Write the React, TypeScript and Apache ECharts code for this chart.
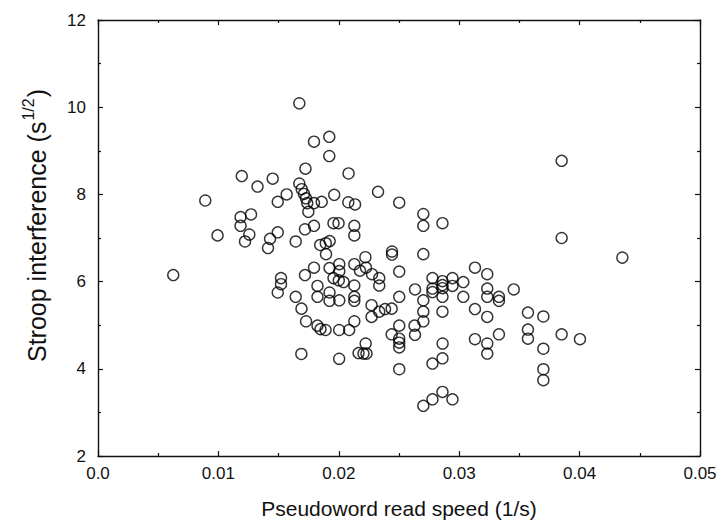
import React, { useEffect, useRef } from "react";
import * as echarts from "echarts";

const speedValues: number[] = [
  0.01672, 0.01794, 0.01921, 0.01921, 0.01723, 0.02081, 0.01194, 0.01451, 0.01325, 0.01672,
  0.01692, 0.01711, 0.01728, 0.01738, 0.01567, 0.01962, 0.02326, 0.02502, 0.00891, 0.01493,
  0.01858, 0.02079, 0.02135, 0.01794, 0.01747, 0.01184, 0.01271, 0.01184, 0.01257, 0.01221,
  0.00993, 0.01493, 0.01429, 0.01412, 0.01642, 0.01719, 0.01794, 0.01956, 0.01998, 0.02129,
  0.02129, 0.01846, 0.01892, 0.01924, 0.01894, 0.02221, 0.02442, 0.02442, 0.02702, 0.02702,
  0.02861, 0.03851, 0.03851, 0.04355, 0.02702, 0.00625, 0.0152, 0.0152, 0.01493, 0.01794,
  0.01719, 0.01923, 0.02004, 0.02004, 0.01956, 0.02, 0.0204, 0.02129, 0.02176, 0.02226,
  0.02276, 0.02336, 0.02336, 0.02502, 0.02129, 0.01823, 0.01642, 0.01823, 0.01923, 0.01923,
  0.02004, 0.02129, 0.02129, 0.03131, 0.03233, 0.02778, 0.02861, 0.02944, 0.03034, 0.02778,
  0.02778, 0.02861, 0.02861, 0.02944, 0.02633, 0.03034, 0.02861, 0.02702, 0.02502, 0.03233,
  0.03233, 0.0333, 0.0333, 0.03453, 0.03131, 0.0169, 0.01728, 0.01823, 0.01848, 0.0189,
  0.02003, 0.02086, 0.02129, 0.02272, 0.02272, 0.02336, 0.02384, 0.02439, 0.02502, 0.02439,
  0.02502, 0.02502, 0.02502, 0.02502, 0.02223, 0.02164, 0.02205, 0.0223, 0.02003, 0.01689,
  0.02702, 0.02861, 0.03233, 0.03571, 0.03699, 0.02629, 0.02702, 0.02633, 0.02862, 0.03131,
  0.03233, 0.03233, 0.0333, 0.03571, 0.03571, 0.03851, 0.04003, 0.03699, 0.02861, 0.02778,
  0.03699, 0.03699, 0.02702, 0.02778, 0.02861, 0.02944,
];

const interferenceValues: number[] = [
  10.09, 9.21, 9.32, 8.88, 8.59, 8.48, 8.42, 8.36, 8.18, 8.25,
  8.12, 8.01, 7.91, 7.8, 8.0, 7.99, 8.06, 7.81, 7.86, 7.83,
  7.83, 7.82, 7.77, 7.8, 7.6, 7.48, 7.54, 7.28, 7.08, 6.92,
  7.06, 7.13, 6.98, 6.77, 6.92, 7.2, 7.28, 7.34, 7.34, 7.28,
  7.06, 6.84, 6.88, 6.93, 6.63, 6.56, 6.69, 6.62, 7.55, 7.28,
  7.34, 8.77, 7.0, 6.55, 6.63, 6.15, 6.08, 5.94, 5.75, 6.32,
  6.15, 6.31, 6.4, 6.24, 6.08, 6.03, 5.99, 6.4, 6.25, 6.32,
  6.17, 6.08, 5.91, 6.23, 5.91, 5.9, 5.65, 5.65, 5.75, 5.56,
  5.57, 5.65, 5.56, 6.32, 6.17, 6.08, 6.01, 6.08, 5.99, 5.84,
  5.76, 5.92, 5.85, 5.9, 5.82, 5.65, 5.65, 5.57, 5.65, 5.84,
  5.65, 5.65, 5.56, 5.82, 5.37, 5.38, 5.09, 4.99, 4.91, 4.89,
  4.89, 4.89, 5.09, 5.46, 5.19, 5.31, 5.37, 5.38, 4.99, 4.79,
  4.69, 4.6, 4.49, 3.99, 4.58, 4.36, 4.35, 4.35, 4.23, 4.34,
  5.31, 5.31, 5.19, 5.29, 5.2, 4.99, 5.09, 4.78, 4.58, 4.68,
  4.58, 4.35, 4.79, 4.9, 4.69, 4.79, 4.68, 4.46, 4.24, 4.12,
  3.99, 3.74, 3.15, 3.3, 3.47, 3.3,
];

const xTickLabels: string[] = ["0.0", "0.01", "0.02", "0.03", "0.04", "0.05"];
const yTickLabels: string[] = ["2", "4", "6", "8", "10", "12"];

const yTitleMain = "Stroop interference (s";
const yTitleSup = "1/2";
const yTitleEnd = ")";

const FONT = "'Liberation Sans', Arial, Helvetica, sans-serif";
const INK = "#111";

function measure(text: string, size: number): number {
  const c = document.createElement("canvas").getContext("2d");
  if (!c) return text.length * size * 0.5;
  c.font = `${size}px ${FONT}`;
  return c.measureText(text).width;
}

export default function App() {
  const ref = useRef<HTMLDivElement>(null);

  useEffect(() => {
    document.body.style.margin = "0";
    if (!ref.current) return;
    const chart = echarts.init(ref.current, null, { renderer: "svg" });

    const points = speedValues.map((x, i) => [x, interferenceValues[i]]);

    const xLabel = (v: number) => {
      const idx = Math.round(v / 0.01);
      return xTickLabels[idx] ?? "";
    };
    const yLabel = (v: number) => {
      const idx = Math.round((v - 2) / 2);
      return yTickLabels[idx] ?? "";
    };

    const axisLine = { show: true, onZero: false, lineStyle: { color: INK, width: 1.4 } };
    const axisTick = { show: true, inside: true, length: 5, lineStyle: { color: INK, width: 1.2 } };
    const minorTick = { show: true, splitNumber: 2, length: 3, lineStyle: { color: INK, width: 1.2 } };

    const mainSize = 25;
    const supSize = 16;
    const wMain = measure(yTitleMain, mainSize);
    const wSup = measure(yTitleSup, supSize);
    const titleStartY = 362;
    const mainMidX = 37;
    const supMidX = 28;

    chart.setOption({
      animation: false,
      backgroundColor: "#fff",
      grid: { left: 98, right: 23, top: 20, bottom: 68, containLabel: false },
      graphic: [
        {
          type: "text",
          x: mainMidX,
          y: titleStartY,
          rotation: Math.PI / 2,
          style: {
            text: yTitleMain,
            fill: INK,
            font: `${mainSize}px ${FONT}`,
            textAlign: "left",
            textVerticalAlign: "middle",
          },
        },
        {
          type: "text",
          x: supMidX,
          y: titleStartY - wMain - 1,
          rotation: Math.PI / 2,
          style: {
            text: yTitleSup,
            fill: INK,
            font: `${supSize}px ${FONT}`,
            textAlign: "left",
            textVerticalAlign: "middle",
          },
        },
        {
          type: "text",
          x: mainMidX,
          y: titleStartY - wMain - wSup - 2,
          rotation: Math.PI / 2,
          style: {
            text: yTitleEnd,
            fill: INK,
            font: `${mainSize}px ${FONT}`,
            textAlign: "left",
            textVerticalAlign: "middle",
          },
        },
      ],
      xAxis: [
        {
          type: "value",
          position: "bottom",
          min: 0,
          max: 0.05,
          interval: 0.01,
          axisLine,
          axisTick,
          minorTick: { ...minorTick },
          splitLine: { show: false },
          axisLabel: {
            formatter: xLabel,
            color: INK,
            fontFamily: FONT,
            fontSize: 17,
            margin: 9,
          },
          name: "Pseudoword read speed (1/s)",
          nameLocation: "middle",
          nameGap: 42,
          nameTextStyle: { color: INK, fontFamily: FONT, fontSize: 21 },
        },
        {
          type: "value",
          position: "top",
          min: 0,
          max: 0.05,
          interval: 0.01,
          axisLine,
          axisTick,
          minorTick: { ...minorTick },
          splitLine: { show: false },
          axisLabel: { show: false },
        },
      ],
      yAxis: [
        {
          type: "value",
          position: "left",
          min: 2,
          max: 12,
          interval: 2,
          axisLine,
          axisTick,
          minorTick: { ...minorTick },
          splitLine: { show: false },
          axisLabel: {
            formatter: yLabel,
            color: INK,
            fontFamily: FONT,
            fontSize: 17,
            margin: 12,
          },
        },
        {
          type: "value",
          position: "right",
          min: 2,
          max: 12,
          interval: 2,
          axisLine,
          axisTick,
          minorTick: { ...minorTick },
          splitLine: { show: false },
          axisLabel: { show: false },
        },
      ],
      series: [
        {
          type: "scatter",
          xAxisIndex: 0,
          yAxisIndex: 0,
          data: points,
          symbol: "circle",
          symbolSize: 11,
          itemStyle: { color: "rgba(255,255,255,0)", borderColor: "#000", borderWidth: 1.4 },
          emphasis: { disabled: true },
        },
      ],
    });

    return () => chart.dispose();
  }, []);

  return <div ref={ref} style={{ width: 723, height: 524 }} />;
}
